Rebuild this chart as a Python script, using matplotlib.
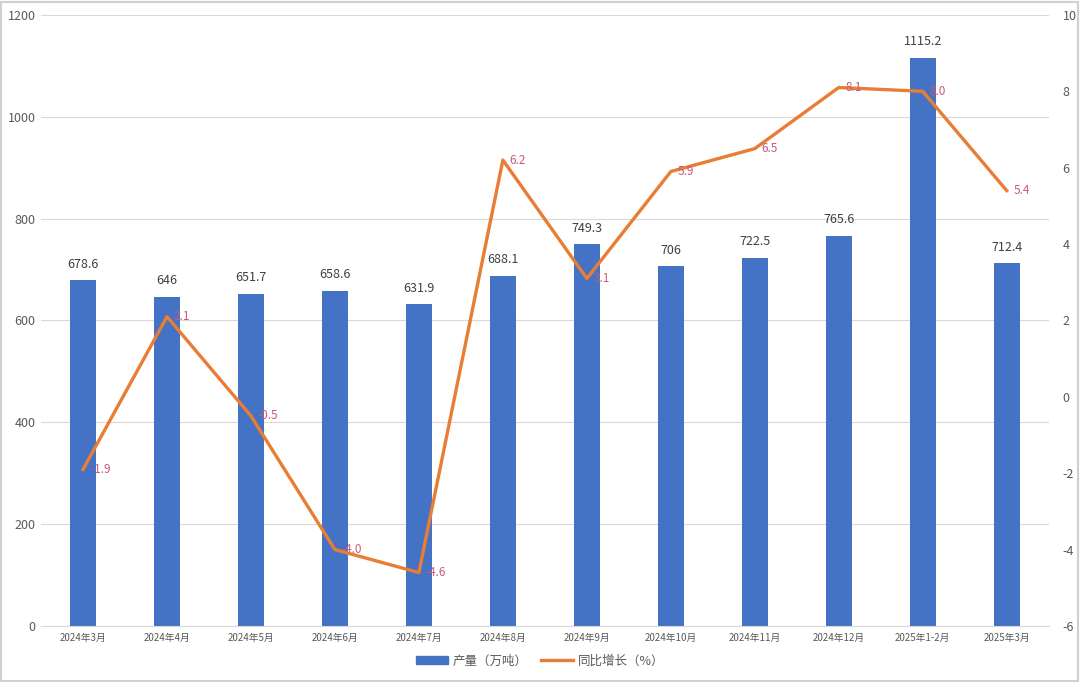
import matplotlib
matplotlib.use("Agg")
import matplotlib.pyplot as plt
from matplotlib.patches import Rectangle

plt.rcParams['font.family'] = ['Noto Sans CJK SC', 'DejaVu Sans']

categories = ["2024年3月", "2024年4月", "2024年5月", "2024年6月", "2024年7月", "2024年8月",
              "2024年9月", "2024年10月", "2024年11月", "2024年12月", "2025年1-2月", "2025年3月"]
output = [678.6, 646, 651.7, 658.6, 631.9, 688.1, 749.3, 706, 722.5, 765.6, 1115.2, 712.4]
output_labels = ["678.6", "646", "651.7", "658.6", "631.9", "688.1", "749.3", "706", "722.5", "765.6", "1115.2", "712.4"]
growth = [-1.9, 2.1, -0.5, -4.0, -4.6, 6.2, 3.1, 5.9, 6.5, 8.1, 8.0, 5.4]
left_ticks = [0, 200, 400, 600, 800, 1000, 1200]
right_ticks = [-6, -4, -2, 0, 2, 4, 6, 8, 10]

bar_color = "#4472C4"
line_color = "#E87D35"
label_gray = "#404040"
tick_gray = "#595959"
pink = "#C85A7A"

fig = plt.figure(figsize=(10.8, 6.82), dpi=100)
ax = fig.add_axes([0.038, 0.0821, 0.933, 0.896])
x = list(range(len(categories)))

ax.bar(x, output, width=0.31, color=bar_color, zorder=2)
ax.set_ylim(0, 1200)
ax.set_xlim(-0.5, len(categories) - 0.5)
ax.set_yticks(left_ticks)
ax.set_yticklabels([str(t) for t in left_ticks])
ax.set_xticks(x)
ax.set_xticklabels(categories, fontsize=7, color=tick_gray)
ax.tick_params(axis='y', labelsize=9, colors=tick_gray, length=0, pad=4)
ax.tick_params(axis='x', length=0, pad=5)
ax.grid(axis='y', color="#D9D9D9", linewidth=0.8, zorder=0)
for s in ["top", "right", "left"]:
    ax.spines[s].set_visible(False)
ax.spines["bottom"].set_color("#D9D9D9")

for xi, v, lab in zip(x, output, output_labels):
    ax.annotate(lab, (xi, v), xytext=(0, 7), textcoords="offset points",
                ha="center", va="bottom", fontsize=9, color=label_gray)

ax2 = ax.twinx()
ax2.plot(x, growth, color=line_color, linewidth=2.4, zorder=3)
ax2.set_ylim(-6, 10)
ax2.set_yticks(right_ticks)
ax2.set_yticklabels([str(t) for t in right_ticks])
ax2.tick_params(axis='y', labelsize=9, colors=tick_gray, length=0, pad=10)
for s in ["top", "right", "left", "bottom"]:
    ax2.spines[s].set_visible(False)

for xi, g in zip(x, growth):
    ax2.annotate(f"{g:.1f}", (xi, g), xytext=(5, 0), textcoords="offset points",
                 ha="left", va="center", fontsize=8.5, color=pink)

h1 = Rectangle((0, 0), 1, 1, color=bar_color)
h2 = plt.Line2D([0], [0], color=line_color, linewidth=2.4)
fig.legend([h1, h2], ["产量（万吨）", "同比增长（%）"], loc="center",
           bbox_to_anchor=(0.5, 0.031), ncol=2, frameon=False, fontsize=9,
           labelcolor=tick_gray, handlelength=2.6, columnspacing=1.0, handletextpad=0.4)

fig.patches.append(Rectangle((0.001, 0.002), 0.997, 0.995, transform=fig.transFigure,
                             fill=False, edgecolor="#D0D0D0", linewidth=1.5))

fig.savefig("out.png", dpi=100)
